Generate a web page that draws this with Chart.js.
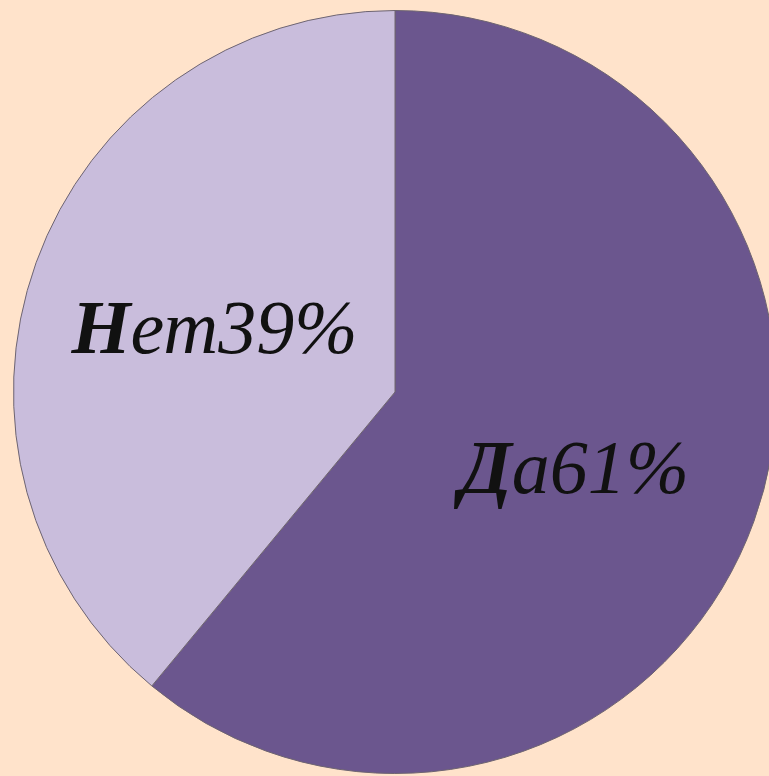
<!DOCTYPE html>
<html>
<head>
<meta charset="utf-8">
<script src="https://cdn.jsdelivr.net/npm/chart.js@4"></script>
<style>
html,body{margin:0;padding:0;background:#FFE3CB;width:769px;height:776px;overflow:hidden;position:relative;}
#c{position:absolute;left:13px;top:10px;}
</style>
</head>
<body>
<canvas id="c" width="764" height="764"></canvas>
<script>
const categories = ['Да', 'Нет'];
const values = [61, 39];
const colors = ['#6B568E', '#C9BDDC'];

const labelPlugin = {
  id: 'labels',
  afterDatasetsDraw(chart) {
    const ctx = chart.ctx;
    const meta = chart.getDatasetMeta(0);
    const offs = [[0, 36], [-1, 26]];
    meta.data.forEach((arc, i) => {
      const p = arc.tooltipPosition();
      const first = categories[i].charAt(0);
      const rest = categories[i].slice(1) + values[i] + '%';
      ctx.save();
      ctx.fillStyle = '#111';
      ctx.textBaseline = 'alphabetic';
      const f1 = 'italic bold 76px "Liberation Serif"';
      const f2 = 'italic 76px "Liberation Serif"';
      ctx.font = f1; const w1 = ctx.measureText(first).width;
      ctx.font = f2; const w2 = ctx.measureText(rest).width;
      const x0 = p.x + offs[i][0] - (w1 + w2) / 2;
      const y = p.y + offs[i][1];
      ctx.font = f1; ctx.fillText(first, x0, y);
      ctx.font = f2; ctx.fillText(rest, x0 + w1, y);
      ctx.restore();
    });
  }
};

new Chart(document.getElementById('c'), {
  type: 'pie',
  data: {
    labels: categories,
    datasets: [{
      data: values,
      backgroundColor: colors,
      borderColor: '#6E6470',
      borderWidth: 1
    }]
  },
  options: {
    responsive: false,
    animation: false,
    layout: { padding: 0 },
    plugins: { legend: { display: false }, tooltip: { enabled: false } }
  },
  plugins: [labelPlugin]
});
</script>
</body>
</html>
